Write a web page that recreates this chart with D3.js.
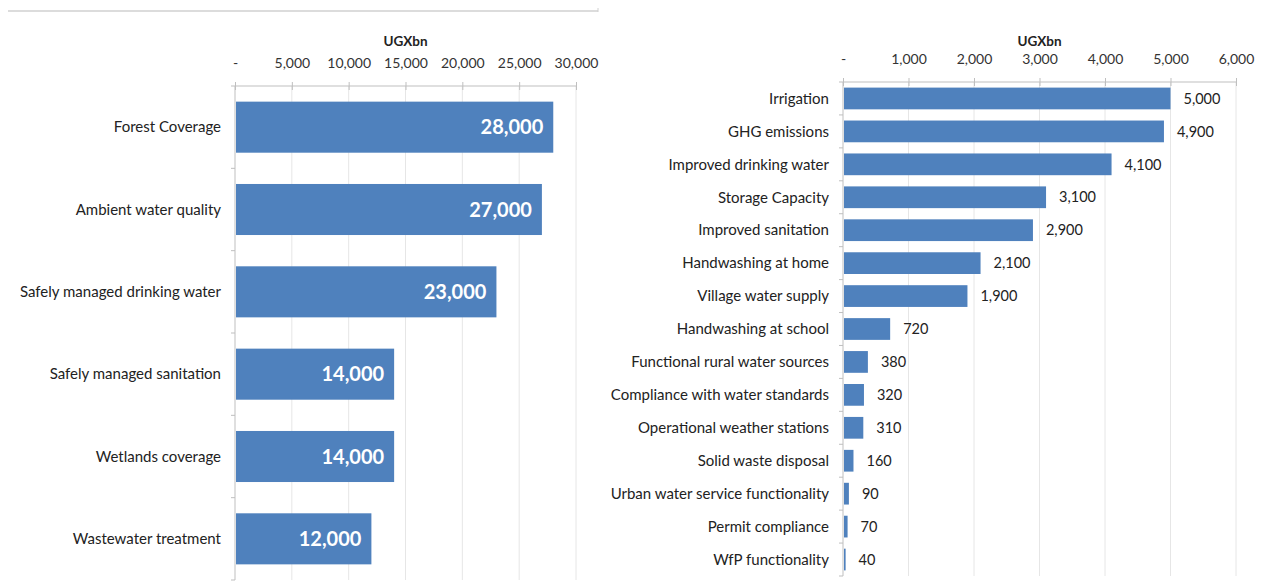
<!DOCTYPE html>
<html>
<head>
<meta charset="utf-8">
<script src="https://cdn.jsdelivr.net/npm/d3@7"></script>
<style>
  body { margin: 0; background: #fff; }
  svg text { font-family: Lato, "Open Sans", sans-serif; }
</style>
</head>
<body>
<div id="chart"></div>
<script>
var svgWidth = 1276;
var svgHeight = 587;

// left panel data
var leftCategories = ["Forest Coverage", "Ambient water quality", "Safely managed drinking water",
  "Safely managed sanitation", "Wetlands coverage", "Wastewater treatment"];
var leftValues = [28000, 27000, 23000, 14000, 14000, 12000];
var leftTicks = [0, 5000, 10000, 15000, 20000, 25000, 30000];

// right panel data
var rightCategories = ["Irrigation", "GHG emissions", "Improved drinking water", "Storage Capacity",
  "Improved sanitation", "Handwashing at home", "Village water supply", "Handwashing at school",
  "Functional rural water sources", "Compliance with water standards", "Operational weather stations",
  "Solid waste disposal", "Urban water service functionality", "Permit compliance", "WfP functionality"];
var rightValues = [5000, 4900, 4100, 3100, 2900, 2100, 1900, 720, 380, 320, 310, 160, 90, 70, 40];
var rightTicks = [0, 1000, 2000, 3000, 4000, 5000, 6000];

var barColor = "#4f81bd";
var fmt = d3.format(",");
function tickFmt(d) { return d === 0 ? "-" : fmt(d); }

var svg = d3.select("#chart").append("svg")
  .attr("width", svgWidth)
  .attr("height", svgHeight);

// thin frame line at the top of left panel
svg.append("line")
  .attr("x1", 8).attr("x2", 598).attr("y1", 11).attr("y2", 11)
  .attr("stroke", "#d0d0d0").attr("stroke-width", 1.5);
svg.append("line")
  .attr("x1", 598).attr("x2", 598).attr("y1", 8).attr("y2", 12)
  .attr("stroke", "#d0d0d0");

function drawPanel(opt) {
  var g = svg.append("g");

  var x = d3.scaleLinear()
    .domain([0, opt.max])
    .range([opt.x0, opt.x1]);

  var y = d3.scaleBand()
    .domain(opt.categories)
    .range([opt.y0, opt.y1])
    .paddingInner(opt.pad)
    .paddingOuter(opt.pad / 2);

  // gridlines
  g.append("g").selectAll("line")
    .data(opt.ticks.slice(1))
    .enter().append("line")
    .attr("x1", d => x(d)).attr("x2", d => x(d))
    .attr("y1", opt.y0).attr("y2", opt.y1)
    .attr("stroke", "#e6e6e6");

  // top axis
  var xAxis = d3.axisTop(x)
    .tickValues(opt.ticks)
    .tickFormat(tickFmt)
    .tickSize(4)
    .tickPadding(14);
  var ax = g.append("g")
    .attr("transform", `translate(0, ${opt.y0})`)
    .call(xAxis);
  ax.select(".domain").attr("stroke", "#bfbfbf").attr("d", `M${opt.x0},0H${opt.x1}`);
  ax.selectAll(".tick line").attr("stroke", "#bfbfbf").attr("y2", 4).attr("y1", -4);
  ax.selectAll(".tick text")
    .attr("fill", "#333")
    .style("font-size", "14px");

  g.append("text")
    .attr("x", (opt.x0 + opt.x1) / 2)
    .attr("y", 46)
    .attr("text-anchor", "middle")
    .attr("fill", "#222")
    .style("font-size", "13.5px")
    .style("font-weight", "bold")
    .text("UGXbn");

  // left category axis
  g.append("line")
    .attr("x1", opt.x0).attr("x2", opt.x0)
    .attr("y1", opt.y0).attr("y2", opt.y1)
    .attr("stroke", "#bfbfbf");
  var step = y.step();
  var bounds = opt.categories.map((c, i) => opt.y0 + i * step).concat([opt.y1]);
  g.append("g").selectAll("line")
    .data(bounds)
    .enter().append("line")
    .attr("x1", opt.x0 - 4).attr("x2", opt.x0)
    .attr("y1", d => d).attr("y2", d => d)
    .attr("stroke", "#bfbfbf");

  g.append("g").selectAll("text")
    .data(opt.categories)
    .enter().append("text")
    .attr("x", opt.x0 - 14)
    .attr("y", d => y(d) + y.bandwidth() / 2)
    .attr("dy", "0.35em")
    .attr("text-anchor", "end")
    .attr("fill", "#222")
    .style("font-size", "15px")
    .text(d => d);

  // bars
  g.append("g").selectAll("rect")
    .data(opt.values)
    .enter().append("rect")
    .attr("x", opt.x0 + 1)
    .attr("y", (d, i) => y(opt.categories[i]))
    .attr("width", d => x(d) - opt.x0 - 1)
    .attr("height", y.bandwidth())
    .attr("fill", barColor);

  // value labels
  g.append("g").selectAll("text")
    .data(opt.values)
    .enter().append("text")
    .attr("x", d => opt.inside ? x(d) - 10 : x(d) + 13)
    .attr("y", (d, i) => y(opt.categories[i]) + y.bandwidth() / 2)
    .attr("dy", "0.36em")
    .attr("text-anchor", opt.inside ? "end" : "start")
    .attr("fill", opt.inside ? "#fff" : "#222")
    .style("font-size", opt.inside ? "20px" : "14.5px")
    .style("font-weight", opt.inside ? "bold" : "normal")
    .text(d => fmt(d));
}

drawPanel({
  categories: leftCategories, values: leftValues, ticks: leftTicks, max: 30000,
  x0: 235, x1: 576, y0: 86, y1: 580, pad: 0.38, inside: true
});

drawPanel({
  categories: rightCategories, values: rightValues, ticks: rightTicks, max: 6000,
  x0: 843, x1: 1236, y0: 82, y1: 576, pad: 0.34, inside: false
});
</script>
</body>
</html>
